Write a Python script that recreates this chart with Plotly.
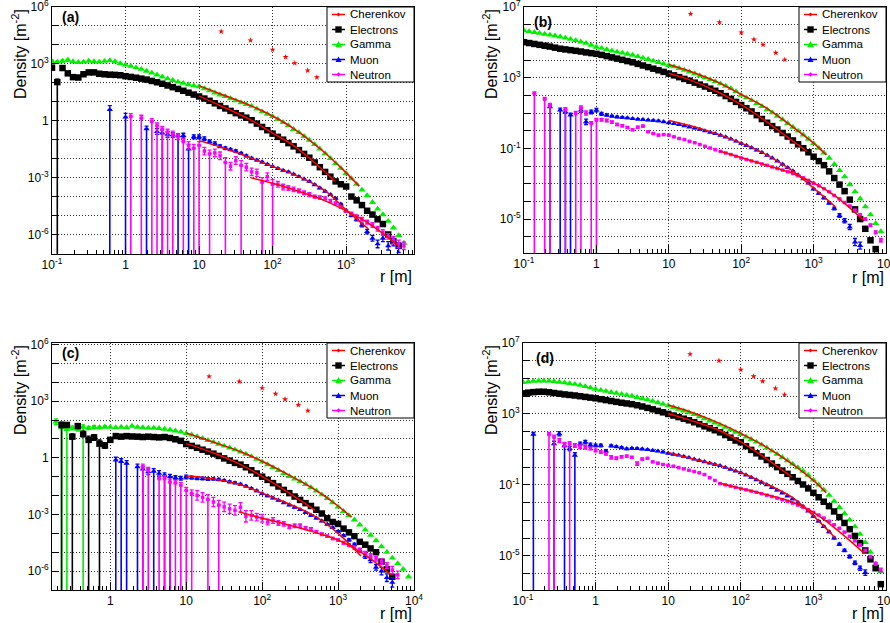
import plotly.graph_objects as go

N = None

# ---------------- shared radial bins [m] ----------------
R_GRID = [0.1, 0.118, 0.139, 0.164, 0.193, 0.228, 0.268, 0.316, 0.373, 0.439, 0.518, 0.611, 0.72, 0.848,
          1.0, 1.18, 1.39, 1.64, 1.93, 2.28, 2.68, 3.16, 3.73, 4.39, 5.18, 6.11, 7.2, 8.48,
          10, 11.8, 13.9, 16.4, 19.3, 22.8, 26.8, 31.6, 37.3, 43.9, 51.8, 61.1, 72, 84.8,
          100, 118, 139, 164, 193, 228, 268, 316, 373, 439, 518, 611, 720, 848,
          1000, 1180, 1390, 1640, 1930, 2280, 2680, 3160, 3730, 4390, 5180, 6110, 7200, 8480]
CHER_R = [20, 50, 100, 150, 200, 300, 400]
FIT_R_GAMMA = [10, 20, 50, 100, 200, 500, 1000, 1500]
FIT_R_MUON = [10, 20, 50, 100, 200, 500, 1000, 2000]
FIT_R_NEUT = [50, 100, 200, 500, 1000, 2000, 5000]

# Values are log10(density / m^-2).  Error entries are log10 half-widths;
# a negative error means the lower bar reaches the bottom of the frame.

# ---------------- panel (a) ----------------
A_GAMMA = [3.13, 3.10, 3.15, 3.20, 3.12, 3.08, 3.10, 3.15, 3.12, 3.10, 3.14, 3.18, 3.12, 3.02,
           2.95, 2.88, 2.80, 2.72, 2.62, 2.52, 2.42, 2.32, 2.22, 2.13, 2.05, 1.98, 1.90, 1.85,
           1.80, 1.70, 1.59, 1.47, 1.37, 1.28, 1.17, 1.06, 0.96, 0.86, 0.77, 0.62, 0.48, 0.35,
           0.23, 0.08, -0.08, -0.25, -0.45, -0.62, -0.82, -1.02, -1.25, -1.48, -1.73, -1.98, -2.25, -2.50,
           -2.77, -3.05, -3.35, -3.65, -3.95, -4.30, -4.65, -4.95, -5.30, -5.65, -6.05, -6.45, N, N]
A_GAMMA_ERR = {0: 0.06, 1: 0.05, 2: 0.05, 3: 0.05}
A_ELEC = [2.80, 2.04, 2.78, 2.50, 2.30, 2.28, 2.45, 2.55, 2.55, 2.48, 2.45, 2.43, 2.42, 2.40,
          2.35, 2.31, 2.27, 2.22, 2.17, 2.10, 2.03, 1.95, 1.86, 1.77, 1.68, 1.58, 1.48, 1.38,
          1.28, 1.17, 1.05, 0.92, 0.78, 0.65, 0.52, 0.40, 0.28, 0.16, 0.03, -0.15, -0.33, -0.50,
          -0.68, -0.85, -1.00, -1.18, -1.35, -1.55, -1.75, -1.95, -2.20, -2.45, -2.70, -2.95, -3.20, -3.35,
          -3.47, -4.00, -4.20, -4.45, -4.75, -4.95, -5.20, -5.45, -6.00, -6.35, -6.60, N, N, N]
A_ELEC_ERR = {0: 0.10, 1: -0.15, 2: 0.06, 3: 0.06, 4: 0.06, 5: 0.05}
A_MUON = [N, N, N, N, N, N, N, N, N, N, N, 0.58, N, N,
          0.19, N, N, N, -0.43, N, -0.57, -0.65, -0.72, -0.75, -0.80, -0.78, -1.50, -0.85,
          -0.85, -0.95, -1.10, -1.20, -1.35, -1.45, -1.52, -1.60, -1.72, -1.85, -1.98, -2.08, -2.18, -2.30,
          -2.42, -2.52, -2.62, -2.70, -2.82, -2.95, -3.08, -3.20, -3.38, -3.55, -3.72, -3.90, -4.10, -4.40,
          -4.75, -5.00, -5.20, -5.50, -5.85, -6.20, -6.50, -6.20, -6.60, -6.40, -6.70, N, N, N]
A_MUON_ERR = [N, N, N, N, N, N, N, N, N, N, N, -0.22, N, N,
              -0.20, N, N, N, -0.15, N, 0.15, -0.15, 0.15, 0.12, -0.12, 0.12, -0.25, 0.10,
              0.10, 0.10, 0.08, 0.08, 0.07, 0.07, 0.06, 0.06, 0.05, 0.05, 0.05, 0.04, 0.04, 0.04,
              0.03, 0.03, 0.03, 0.03, 0.03, 0.03, 0.03, 0.03, 0.03, 0.03, 0.03, 0.04, 0.04, 0.04,
              0.05, 0.06, 0.08, 0.10, 0.12, 0.15, 0.20, 0.18, 0.22, 0.20, 0.25, N, N, N]
A_NEUT = [N, N, N, N, N, N, N, N, N, N, N, N, N, N,
          N, 0.23, N, 0.14, N, -0.04, -0.27, -0.45, -0.60, -0.70, -0.85, -1.10, -1.30, -1.45,
          -1.30, -1.60, -1.75, -1.70, -1.85, -2.20, -2.40, -2.10, -2.35, -2.45, -2.70, -2.75, -3.25, -2.95,
          -3.35, -3.35, -3.50, -3.55, -3.62, -3.70, -3.80, -3.90, -4.00, -4.05, -4.10, -4.22, -4.35, -4.55,
          -4.75, -4.90, -5.05, -5.20, -5.35, -5.50, -5.70, -5.90, -6.10, -6.30, -6.50, -6.60, N, N]
A_NEUT_ERR = [N, N, N, N, N, N, N, N, N, N, N, N, N, N,
              N, -0.15, N, -0.15, N, -0.15, -0.15, -0.15, -0.15, -0.15, 0.15, -0.15, 0.20, -0.20,
              -0.20, 0.20, -0.20, 0.20, 0.20, -0.25, 0.20, 0.20, -0.25, 0.20, 0.20, 0.20, -0.25, 0.20,
              -0.25, 0.15, 0.15, 0.12, 0.12, 0.10, 0.10, 0.10, 0.08, 0.08, 0.08, 0.07, 0.07, 0.07,
              0.07, 0.08, 0.08, 0.10, 0.10, 0.12, 0.12, 0.15, 0.15, 0.20, 0.20, 0.20, N, N]
A_CHER = [4.71, 4.24, 3.75, 3.36, 3.04, 2.65, 2.29]
A_FIT_GAMMA = [1.85, 1.40, 0.80, 0.25, -0.45, -1.65, -2.75, -3.45]
A_FIT_ELEC_R = [10, 20, 50, 100, 200, 500, 700]
A_FIT_ELEC = [1.30, 0.78, 0.05, -0.65, -1.35, -2.65, -3.20]
A_FIT_MUON = [-1.05, -1.40, -1.95, -2.40, -2.85, -3.65, -4.70, -5.70]
A_FIT_NEUT = [-3.00, -3.30, -3.65, -4.20, -4.75, -5.40, -6.55]

# ---------------- panel (b) ----------------
B_GAMMA = [5.67, 5.62, 5.57, 5.52, 5.47, 5.42, 5.37, 5.31, 5.25, 5.18, 5.11, 5.03, 4.95, 4.85,
           4.73, 4.67, 4.60, 4.52, 4.46, 4.40, 4.34, 4.28, 4.20, 4.12, 4.04, 3.95, 3.87, 3.78,
           3.70, 3.62, 3.53, 3.43, 3.33, 3.23, 3.12, 3.00, 2.90, 2.79, 2.66, 2.53, 2.39, 2.22,
           2.02, 1.87, 1.71, 1.55, 1.38, 1.20, 1.02, 0.83, 0.63, 0.42, 0.21, -0.01, -0.23, -0.47,
           -0.72, -0.98, -1.25, -1.55, -1.90, -2.25, -2.60, -3.05, -3.45, -3.85, -4.30, -4.75, -5.25, -5.70]
B_GAMMA_ERR = {}
B_ELEC = [5.01, 4.96, 4.91, 4.86, 4.81, 4.76, 4.70, 4.64, 4.60, 4.56, 4.52, 4.48, 4.43, 4.39,
          4.35, 4.29, 4.22, 4.15, 4.08, 4.01, 3.94, 3.87, 3.78, 3.69, 3.60, 3.51, 3.42, 3.33,
          3.23, 3.13, 3.03, 2.93, 2.83, 2.72, 2.61, 2.50, 2.38, 2.26, 2.12, 1.96, 1.80, 1.63,
          1.45, 1.27, 1.09, 0.88, 0.66, 0.45, 0.26, 0.07, -0.13, -0.33, -0.55, -0.77, -0.99, -1.22,
          -1.47, -1.72, -1.95, -2.30, -2.68, -3.05, -3.42, -3.90, -4.45, -5.00, -5.55, -6.20, -6.70, N]
B_ELEC_ERR = {}
B_MUON = [N, N, N, N, N, 1.35, N, 1.16, 1.05, 0.88, N, 1.16, 0.50, 1.06,
          1.16, 0.95, 0.88, 0.82, 0.78, 0.75, 0.72, 0.68, 0.65, 0.63, 0.60, 0.58, 0.55, 0.50,
          0.45, 0.40, 0.35, 0.28, 0.21, 0.14, 0.07, -0.01, -0.09, -0.17, -0.26, -0.36, -0.47, -0.59,
          -0.72, -0.84, -0.97, -1.10, -1.24, -1.39, -1.55, -1.72, -1.90, -2.09, -2.28, -2.50, -2.72, -2.97,
          -3.30, -3.55, -3.80, -4.10, -4.40, -4.80, -5.10, -5.45, -6.30, -6.50, N, N, N, N]
B_MUON_ERR = [N, N, N, N, N, -0.12, N, -0.12, -0.12, -0.12, N, 0.12, 0.15, 0.10,
              0.10, 0.08, 0.06, 0.05, 0.05, 0.04, 0.04, 0.03, 0.03, 0.03, 0.03, 0.03, 0.03, 0.03,
              0.02, 0.02, 0.02, 0.02, 0.02, 0.02, 0.02, 0.02, 0.02, 0.02, 0.02, 0.02, 0.02, 0.02,
              0.02, 0.02, 0.02, 0.02, 0.02, 0.02, 0.02, 0.02, 0.02, 0.02, 0.02, 0.02, 0.02, 0.02,
              0.03, 0.04, 0.05, 0.06, 0.08, 0.10, 0.12, 0.15, 0.20, 0.20, N, N, N, N]
B_NEUT = [N, N, 2.10, N, 1.78, 1.44, N, N, 1.21, N, 0.97, 1.29, 1.00, 0.41,
          0.60, 0.62, 0.58, 0.48, 0.35, 0.28, 0.18, 0.05, 0.20, 0.26, -0.06, -0.16, -0.25, -0.22,
          -0.25, -0.35, -0.44, -0.50, -0.60, -0.68, -0.78, -0.88, -0.98, -1.08, -1.17, -1.26, -1.35, -1.45,
          -1.55, -1.63, -1.71, -1.79, -1.88, -1.96, -2.05, -2.14, -2.23, -2.32, -2.42, -2.54, -2.67, -2.81,
          -2.97, -3.12, -3.28, -3.46, -3.66, -3.86, -4.06, -4.26, -4.50, -4.75, -5.00, -5.35, -5.75, -6.20]
B_NEUT_ERR = [N, N, -0.10, N, -0.10, -0.10, N, N, -0.10, N, -0.12, -0.12, 0.12, -0.10,
              -0.10, 0.08, 0.08, 0.07, 0.06, 0.06, 0.05, 0.05, 0.05, 0.05, 0.04, 0.04, 0.04, 0.03,
              0.03, 0.03, 0.03, 0.02, 0.02, 0.02, 0.02, 0.02, 0.02, 0.02, 0.02, 0.02, 0.02, 0.02,
              0.02, 0.02, 0.02, 0.02, 0.02, 0.02, 0.02, 0.02, 0.02, 0.02, 0.02, 0.02, 0.02, 0.02,
              0.02, 0.02, 0.02, 0.03, 0.03, 0.03, 0.04, 0.04, 0.05, 0.05, 0.06, 0.07, 0.08, 0.10]
B_CHER = [6.61, 6.14, 5.56, 5.16, 4.86, 4.41, 4.02]
B_FIT_GAMMA = [3.75, 3.35, 2.70, 2.05, 1.40, 0.25, -0.70, -1.38]
B_FIT_ELEC_R = [10, 20, 50, 100, 200, 500, 800]
B_FIT_ELEC = [3.25, 2.86, 2.15, 1.47, 0.65, -0.55, -1.15]
B_FIT_MUON = [0.58, 0.28, -0.22, -0.70, -1.25, -2.25, -3.25, -4.30]
B_FIT_NEUT = [-1.15, -1.52, -1.90, -2.40, -2.95, -3.70, -5.10]

# ---------------- panel (c) ----------------
C_GAMMA = [N, N, N, N, 1.91, 1.60, 1.50, 1.58, 1.52, 1.62, 1.58, 1.62, 1.60, 1.64,
           1.62, 1.60, 1.63, 1.60, 1.68, 1.62, 1.60, 1.58, 1.58, 1.56, 1.52, 1.48, 1.43, 1.37,
           1.30, 1.22, 1.13, 1.03, 0.93, 0.83, 0.73, 0.63, 0.53, 0.43, 0.32, 0.20, 0.07, -0.07,
           -0.21, -0.36, -0.51, -0.66, -0.82, -0.98, -1.12, -1.25, -1.40, -1.57, -1.75, -1.95, -2.15, -2.37,
           -2.60, -2.83, -3.05, -3.28, -3.55, -3.82, -4.10, -4.38, -4.70, -5.00, -5.30, -5.60, -5.90, -6.30]
C_GAMMA_ERR = {4: 0.15, 5: -0.15, 6: -0.15, 7: 0.10, 8: 0.10, 9: -0.12, 10: 0.08, 11: 0.08, 12: 0.06, 13: 0.05}
C_ELEC = [N, N, N, N, N, 1.74, 1.74, 1.12, 1.68, 1.26, 0.95, 1.08, 0.75, 0.65,
          0.95, 1.15, 1.12, 1.15, 1.13, 1.12, 1.10, 1.12, 1.10, 1.08, 1.10, 1.05, 0.98, 0.90,
          0.73, 0.63, 0.53, 0.43, 0.33, 0.22, 0.10, -0.03, -0.15, -0.27, -0.36, -0.50, -0.66, -0.83,
          -1.00, -1.17, -1.34, -1.52, -1.70, -1.87, -2.05, -2.23, -2.40, -2.55, -2.75, -2.95, -3.20, -3.40,
          -3.50, -3.75, -3.95, -4.15, -4.45, -4.60, -4.80, -5.00, -5.50, -5.90, -6.30, N, N, N]
C_ELEC_ERR = {5: -0.15, 6: 0.12, 7: -0.15, 8: 0.12, 9: 0.15, 10: -0.20, 11: 0.15, 12: -0.20, 13: 0.15,
              14: 0.10, 15: 0.08, 16: 0.06}
C_MUON = [N, N, N, N, N, N, N, N, N, N, N, N, N, N,
          N, -0.12, -0.20, -0.30, N, -0.48, -0.60, -0.74, -0.72, -0.83, -0.92, -1.00, -1.05, -1.08,
          -1.02, -1.05, -1.08, -1.10, -1.12, -1.12, -1.15, -1.20, -1.27, -1.33, -1.40, -1.50, -1.62, -1.75,
          -1.90, -2.02, -2.13, -2.25, -2.38, -2.50, -2.62, -2.75, -2.90, -3.05, -3.20, -3.35, -3.52, -3.70,
          -3.90, -4.12, -4.35, -4.60, -4.90, -5.20, -5.40, -5.80, -6.00, -6.35, -6.60, N, N, N]
C_MUON_ERR = [N, N, N, N, N, N, N, N, N, N, N, N, N, N,
              N, -0.15, -0.15, -0.15, N, -0.15, -0.15, 0.15, -0.15, 0.15, -0.12, -0.12, 0.10, 0.10,
              0.10, 0.08, 0.08, 0.07, 0.07, 0.06, 0.06, 0.05, 0.05, 0.05, 0.04, 0.04, 0.04, 0.04,
              0.03, 0.03, 0.03, 0.03, 0.03, 0.03, 0.03, 0.03, 0.03, 0.03, 0.03, 0.03, 0.03, 0.03,
              0.04, 0.05, 0.06, 0.08, 0.10, 0.12, 0.15, 0.15, 0.20, 0.20, 0.25, N, N, N]
C_NEUT = [N, N, N, N, N, N, N, N, N, N, N, N, N, N,
          N, N, N, N, N, N, -0.48, -0.66, N, -1.10, -1.10, -1.28, -1.33, -1.45,
          -1.72, -1.90, -1.99, -2.10, -2.20, -2.34, -2.50, -2.60, -2.70, -2.78, -2.62, -3.10, -3.05, -3.14,
          -3.20, -3.40, -3.32, -3.45, -3.50, -3.65, -3.60, -3.60, -3.72, -3.78, -3.92, -4.05, -4.15, -4.27,
          -4.35, -4.50, -4.62, -4.75, -4.90, -5.05, -5.20, -5.35, -5.50, -5.70, -5.95, -6.20, N, N]
C_NEUT_ERR = [N, N, N, N, N, N, N, N, N, N, N, N, N, N,
              N, N, N, N, N, N, -0.15, -0.15, N, -0.15, -0.15, -0.15, -0.15, -0.15,
              -0.15, -0.20, 0.25, 0.25, -0.25, 0.25, -0.25, 0.25, 0.25, 0.25, 0.25, 0.30, 0.25, 0.20,
              0.20, 0.15, 0.15, 0.12, 0.12, 0.10, 0.10, 0.10, 0.08, 0.08, 0.07, 0.07, 0.06, 0.06,
              0.06, 0.07, 0.08, 0.08, 0.10, 0.10, 0.12, 0.12, 0.15, 0.15, 0.20, 0.20, N, N]
C_CHER = [4.31, 4.04, 3.69, 3.39, 3.10, 2.80, 2.50]
C_FIT_GAMMA = [1.32, 0.90, 0.35, -0.18, -0.80, -1.70, -2.55, -3.15]
C_FIT_ELEC_R = [10, 20, 50, 100, 200, 500]
C_FIT_ELEC = [0.75, 0.35, -0.32, -0.98, -1.72, -2.78]
C_FIT_MUON = [-0.96, -1.08, -1.40, -1.88, -2.35, -3.10, -4.00, -5.20]
C_FIT_NEUT = [-2.87, -3.20, -3.50, -3.95, -4.35, -5.00, -6.20]

# ---------------- panel (d) ----------------
D_GAMMA = [4.78, 4.82, 4.85, 4.87, 4.87, 4.86, 4.83, 4.80, 4.76, 4.72, 4.68, 4.62, 4.55, 4.48,
           4.40, 4.34, 4.28, 4.22, 4.17, 4.11, 4.06, 4.01, 3.94, 3.87, 3.80, 3.72, 3.64, 3.56,
           3.47, 3.37, 3.27, 3.17, 3.08, 2.97, 2.85, 2.73, 2.61, 2.49, 2.38, 2.25, 2.11, 1.97,
           1.85, 1.71, 1.57, 1.42, 1.26, 1.09, 0.91, 0.73, 0.55, 0.37, 0.18, -0.02, -0.22, -0.45,
           -0.72, -1.00, -1.28, -1.58, -1.92, -2.27, -2.62, -2.98, -3.36, -3.78, -4.25, -4.80, -5.45, -5.90]
D_GAMMA_ERR = {}
D_ELEC = [4.16, 4.20, 4.23, 4.25, 4.25, 4.22, 4.18, 4.14, 4.10, 4.07, 4.04, 4.00, 3.96, 3.92,
          3.88, 3.83, 3.78, 3.73, 3.68, 3.63, 3.59, 3.55, 3.49, 3.42, 3.34, 3.26, 3.17, 3.09,
          3.00, 2.91, 2.82, 2.73, 2.64, 2.53, 2.42, 2.30, 2.19, 2.08, 1.96, 1.81, 1.66, 1.50,
          1.40, 1.18, 0.97, 0.78, 0.60, 0.40, 0.20, 0.00, -0.20, -0.38, -0.57, -0.78, -0.98, -1.20,
          -1.45, -1.70, -1.95, -2.20, -2.50, -2.82, -3.15, -3.50, -3.88, -4.28, -4.70, -5.20, -5.70, -6.60]
D_ELEC_ERR = {}
D_MUON = [N, N, 1.84, N, N, N, 1.31, 1.88, 1.20, 1.05, 0.66, 1.31, 1.41, 1.25,
          1.22, 1.22, 0.90, 1.20, 1.15, 1.10, 1.03, 1.06, 1.05, 1.02, 0.98, 0.94, 0.90, 0.85,
          0.78, 0.72, 0.67, 0.60, 0.53, 0.45, 0.37, 0.30, 0.22, 0.15, 0.08, -0.02, -0.12, -0.22,
          -0.32, -0.45, -0.58, -0.72, -0.86, -1.00, -1.15, -1.30, -1.46, -1.63, -1.80, -2.00, -2.22, -2.48,
          -2.78, -3.05, -3.35, -3.65, -4.00, -4.35, -4.70, -5.05, -5.40, -5.70, -5.95, N, N, N]
D_MUON_ERR = [N, N, -0.12, N, N, N, -0.15, 0.12, -0.15, 0.12, -0.15, 0.10, 0.10, 0.10,
              0.08, 0.08, 0.08, 0.06, 0.05, 0.05, 0.04, 0.04, 0.03, 0.03, 0.03, 0.03, 0.03, 0.03,
              0.02, 0.02, 0.02, 0.02, 0.02, 0.02, 0.02, 0.02, 0.02, 0.02, 0.02, 0.02, 0.02, 0.02,
              0.02, 0.02, 0.02, 0.02, 0.02, 0.02, 0.02, 0.02, 0.02, 0.02, 0.02, 0.02, 0.02, 0.02,
              0.02, 0.03, 0.03, 0.04, 0.05, 0.06, 0.07, 0.08, 0.10, 0.12, 0.15, N, N, N]
D_NEUT = [N, N, N, N, N, 1.84, 1.69, 1.50, 1.27, 1.31, 1.22, 1.15, 1.12, 1.05,
          0.94, 0.85, 0.75, 0.55, 0.50, 0.58, 0.62, 0.55, 0.20, 0.45, 0.50, 0.30, 0.22, 0.15,
          0.10, 0.05, -0.03, -0.10, -0.18, -0.25, -0.32, -0.42, -0.60, -0.75, -0.93, -1.00, -1.07, -1.14,
          -1.21, -1.28, -1.35, -1.42, -1.50, -1.58, -1.66, -1.75, -1.84, -1.93, -2.03, -2.14, -2.26, -2.40,
          -2.55, -2.70, -2.87, -3.05, -3.25, -3.45, -3.67, -3.90, -4.15, -4.40, -4.70, -5.05, -5.45, -5.80]
D_NEUT_ERR = [N, N, N, N, N, -0.12, -0.12, 0.12, 0.12, -0.12, 0.10, 0.10, 0.10, 0.08,
              0.08, 0.07, 0.07, 0.10, 0.08, 0.06, 0.06, 0.06, 0.10, 0.05, 0.04, 0.04, 0.04, 0.03,
              0.03, 0.03, 0.03, 0.02, 0.02, 0.02, 0.02, 0.02, 0.02, 0.02, 0.02, 0.02, 0.02, 0.02,
              0.02, 0.02, 0.02, 0.02, 0.02, 0.02, 0.02, 0.02, 0.02, 0.02, 0.02, 0.02, 0.02, 0.02,
              0.02, 0.02, 0.02, 0.03, 0.03, 0.03, 0.04, 0.04, 0.05, 0.05, 0.06, 0.07, 0.08, 0.10]
D_CHER = [6.37, 6.00, 5.49, 5.12, 4.84, 4.44, 4.09]
D_FIT_GAMMA = [3.50, 3.12, 2.48, 1.90, 1.25, 0.20, -0.75, -1.45]
D_FIT_ELEC_R = [10, 20, 50, 100, 200, 500]
D_FIT_ELEC = [3.02, 2.65, 2.08, 1.42, 0.62, -0.55]
D_FIT_MUON = [0.82, 0.50, 0.10, -0.30, -0.85, -1.68, -2.75, -4.00]
D_FIT_NEUT = [-0.90, -1.20, -1.50, -1.95, -2.55, -3.45, -4.85]

LEGEND_LABELS = ["Cherenkov", "Electrons", "Gamma", "Muon", "Neutron"]
PANEL_TAGS = ["(a)", "(b)", "(c)", "(d)"]

# ---------------- styling / layout ----------------
FONT = "Liberation Sans, Arial, Helvetica, sans-serif"
RED, BLACK, GREEN, BLUE, MAGENTA = "#ff0000", "#000000", "#00ee00", "#0000ff", "#ff00ff"
W, H = 890, 623

PANELS = [
    dict(tag=PANEL_TAGS[0], box=(52, 414, 7, 254), xr=(-1.0, 3.923), yr=(-7.03, 6.0),
         xlab=[-1, 0, 1, 2, 3], ylab=[-6, -3, 0, 3, 6],
         gamma=(A_GAMMA, A_GAMMA_ERR), elec=(A_ELEC, A_ELEC_ERR), muon=(A_MUON, A_MUON_ERR),
         neut=(A_NEUT, A_NEUT_ERR), cher=A_CHER, fg=A_FIT_GAMMA, fe=(A_FIT_ELEC_R, A_FIT_ELEC),
         fm=A_FIT_MUON, fn=A_FIT_NEUT, ytitle_x=19, rlab_y=276, tagpos=(60, 17.5)),
    dict(tag=PANEL_TAGS[1], box=(524, 886, 7, 253), xr=(-1.0, 4.0), yr=(-6.92, 7.0),
         xlab=[-1, 0, 1, 2, 3, 4], ylab=[-5, -1, 3, 7],
         gamma=(B_GAMMA, B_GAMMA_ERR), elec=(B_ELEC, B_ELEC_ERR), muon=(B_MUON, B_MUON_ERR),
         neut=(B_NEUT, B_NEUT_ERR), cher=B_CHER, fg=B_FIT_GAMMA, fe=(B_FIT_ELEC_R, B_FIT_ELEC),
         fm=B_FIT_MUON, fn=B_FIT_NEUT, ytitle_x=490, rlab_y=277, tagpos=(532, 22)),
    dict(tag=PANEL_TAGS[2], box=(52, 414, 343, 590), xr=(-0.768, 4.0), yr=(-7.0, 6.08),
         xlab=[0, 1, 2, 3, 4], ylab=[-6, -3, 0, 3, 6],
         gamma=(C_GAMMA, C_GAMMA_ERR), elec=(C_ELEC, C_ELEC_ERR), muon=(C_MUON, C_MUON_ERR),
         neut=(C_NEUT, C_NEUT_ERR), cher=C_CHER, fg=C_FIT_GAMMA, fe=(C_FIT_ELEC_R, C_FIT_ELEC),
         fm=C_FIT_MUON, fn=C_FIT_NEUT, ytitle_x=19, rlab_y=613, tagpos=(60, 353)),
    dict(tag=PANEL_TAGS[3], box=(523, 886, 343, 590), xr=(-1.0, 4.0), yr=(-6.93, 7.0),
         xlab=[-1, 0, 1, 2, 3, 4], ylab=[-5, -1, 3, 7],
         gamma=(D_GAMMA, D_GAMMA_ERR), elec=(D_ELEC, D_ELEC_ERR), muon=(D_MUON, D_MUON_ERR),
         neut=(D_NEUT, D_NEUT_ERR), cher=D_CHER, fg=D_FIT_GAMMA, fe=(D_FIT_ELEC_R, D_FIT_ELEC),
         fm=D_FIT_MUON, fn=D_FIT_NEUT, ytitle_x=490, rlab_y=613, tagpos=(534, 358)),
]

for name, arr in [("A_GAMMA", A_GAMMA), ("A_ELEC", A_ELEC), ("A_MUON", A_MUON), ("A_MUON_ERR", A_MUON_ERR),
                  ("A_NEUT", A_NEUT), ("A_NEUT_ERR", A_NEUT_ERR), ("B_GAMMA", B_GAMMA), ("B_ELEC", B_ELEC),
                  ("B_MUON", B_MUON), ("B_MUON_ERR", B_MUON_ERR), ("B_NEUT", B_NEUT), ("B_NEUT_ERR", B_NEUT_ERR),
                  ("C_GAMMA", C_GAMMA), ("C_ELEC", C_ELEC), ("C_MUON", C_MUON), ("C_MUON_ERR", C_MUON_ERR),
                  ("C_NEUT", C_NEUT), ("C_NEUT_ERR", C_NEUT_ERR), ("D_GAMMA", D_GAMMA), ("D_ELEC", D_ELEC),
                  ("D_MUON", D_MUON), ("D_MUON_ERR", D_MUON_ERR), ("D_NEUT", D_NEUT), ("D_NEUT_ERR", D_NEUT_ERR)]:
    if len(arr) != len(R_GRID):
        raise ValueError(f"{name} has length {len(arr)}")


def PX(x):
    return x / W


def PY(y):
    return 1 - y / H


def dec_label(k):
    if k == 0:
        return "1"
    if k == 1:
        return "10"
    return f"10<sup>{k}</sup>"


fig = go.Figure()


def add_series(xa, ya, logs, errs, color, symbol, size):
    xs0, ys0 = [], []
    xs1, ys1, ep, em = [], [], [], []
    bx, by = [], []
    for i, v in enumerate(logs):
        if v is None:
            continue
        e = errs.get(i) if isinstance(errs, dict) else errs[i]
        y = 10 ** v
        r = R_GRID[i]
        if not e:
            xs0.append(r); ys0.append(y)
            continue
        xs1.append(r); ys1.append(y)
        if e > 0:
            ep.append(y * (10 ** e - 1)); em.append(y * (1 - 10 ** -e))
        else:
            ep.append(y * (10 ** -e - 1)); em.append(0)
            bx += [r, r, None]; by += [1e-12, y, None]
    if bx:
        fig.add_trace(go.Scatter(x=bx, y=by, mode="lines", line=dict(color=color, width=1.6),
                                 xaxis=xa, yaxis=ya, hoverinfo="skip", showlegend=False))
    mk = dict(color=color, symbol=symbol, size=size, line=dict(width=0))
    if xs1:
        fig.add_trace(go.Scatter(x=xs1, y=ys1, mode="markers", marker=mk, xaxis=xa, yaxis=ya,
                                 error_y=dict(type="data", array=ep, arrayminus=em, visible=True,
                                              color=color, thickness=1.3, width=2),
                                 showlegend=False))
    if xs0:
        fig.add_trace(go.Scatter(x=xs0, y=ys0, mode="markers", marker=mk, xaxis=xa, yaxis=ya,
                                 showlegend=False))


def add_fit(xa, ya, rs, logs):
    fig.add_trace(go.Scatter(x=rs, y=[10 ** v for v in logs], mode="lines",
                             line=dict(color=RED, width=1.5, shape="spline", smoothing=1.0),
                             xaxis=xa, yaxis=ya, hoverinfo="skip", showlegend=False))


def marker_shape(kind, cx, cy, s, color):
    """Legend glyph drawn as a paper-referenced shape (pixel centre cx, cy)."""
    if kind == "square":
        return dict(type="rect", xref="paper", yref="paper", x0=PX(cx - s), x1=PX(cx + s),
                    y0=PY(cy + s), y1=PY(cy - s), fillcolor=color, line=dict(width=0), layer="above")
    if kind == "tri":
        path = (f"M {PX(cx - s)},{PY(cy + s * 0.8)} L {PX(cx + s)},{PY(cy + s * 0.8)} "
                f"L {PX(cx)},{PY(cy - s)} Z")
        return dict(type="path", xref="paper", yref="paper", path=path, fillcolor=color,
                    line=dict(width=0), layer="above")
    path = (f"M {PX(cx - s)},{PY(cy)} L {PX(cx)},{PY(cy - s)} L {PX(cx + s)},{PY(cy)} "
            f"L {PX(cx)},{PY(cy + s)} Z")
    return dict(type="path", xref="paper", yref="paper", path=path, fillcolor=color,
                line=dict(width=0), layer="above")


layout = {}
annotations = []
shapes = []
tickfont = dict(family=FONT, size=12, color="black")
minor_x = [m * 10 ** k for k in range(-1, 4) for m in range(2, 10)]
GRID = dict(showgrid=True, gridcolor="#333333", griddash="1px,2px", gridwidth=1, zeroline=False)

for n, p in enumerate(PANELS, start=1):
    xa = "x" if n == 1 else f"x{n}"
    ya = "y" if n == 1 else f"y{n}"
    x0, x1, y0, y1 = p["box"]
    layout["xaxis" if n == 1 else f"xaxis{n}"] = dict(
        type="log", range=list(p["xr"]), domain=[x0 / W, x1 / W], anchor=ya,
        showline=True, mirror=True, linecolor="black", linewidth=1,
        ticks="inside", ticklen=8, tickwidth=1, tickcolor="black",
        tickvals=[10 ** k for k in p["xlab"]], ticktext=[dec_label(k) for k in p["xlab"]],
        tickfont=tickfont, ticklabeloverflow="allow",
        minor=dict(tickvals=minor_x, ticks="inside", ticklen=4, tickcolor="black", showgrid=False),
        **GRID,
    )
    yk = list(range(-7, 8))
    layout["yaxis" if n == 1 else f"yaxis{n}"] = dict(
        type="log", range=list(p["yr"]), domain=[1 - y1 / H, 1 - y0 / H], anchor=xa,
        showline=True, mirror=True, linecolor="black", linewidth=1,
        ticks="inside", ticklen=7, tickwidth=1, tickcolor="black",
        tickvals=[10 ** k for k in yk], ticktext=[dec_label(k) if k in p["ylab"] else "" for k in yk],
        tickfont=tickfont, ticklabeloverflow="allow",
        **GRID,
    )

    # data
    add_series(xa, ya, p["gamma"][0], p["gamma"][1], GREEN, "triangle-up", 6.5)
    add_series(xa, ya, p["elec"][0], p["elec"][1], BLACK, "square", 6.5)
    add_series(xa, ya, p["muon"][0], p["muon"][1], BLUE, "triangle-up", 5.5)
    add_series(xa, ya, p["neut"][0], p["neut"][1], MAGENTA, "square", 3.5)
    add_fit(xa, ya, FIT_R_GAMMA, p["fg"])
    add_fit(xa, ya, p["fe"][0], p["fe"][1])
    add_fit(xa, ya, FIT_R_MUON, p["fm"])
    add_fit(xa, ya, FIT_R_NEUT, p["fn"])
    fig.add_trace(go.Scatter(x=CHER_R, y=[10 ** v for v in p["cher"]], mode="markers",
                             marker=dict(color=RED, symbol="star", size=4.5, line=dict(width=0)),
                             xaxis=xa, yaxis=ya, showlegend=False))

    # texts
    annotations.append(dict(text="Density [m<sup>-2</sup>]", textangle=-90, xref="paper", yref="paper",
                            x=PX(p["ytitle_x"]), y=PY(y0), xanchor="center", yanchor="top", showarrow=False,
                            font=dict(family=FONT, size=16, color="black")))
    annotations.append(dict(text="r [m]", xref="paper", yref="paper", x=PX(x1), y=PY(p["rlab_y"]),
                            xanchor="right", yanchor="middle", showarrow=False,
                            font=dict(family=FONT, size=16, color="black")))
    annotations.append(dict(text=f"<b>{p['tag']}</b>", xref="paper", yref="paper", x=PX(p["tagpos"][0]),
                            y=PY(p["tagpos"][1]), xanchor="left", yanchor="middle", showarrow=False,
                            font=dict(family=FONT, size=14, color="black")))

    # legend box
    lx0, lx1 = x1 - 87, x1
    ly0, ly1 = y0, y0 + 75
    shapes.append(dict(type="rect", xref="paper", yref="paper", x0=PX(lx0), x1=PX(lx1),
                       y0=PY(ly1), y1=PY(ly0), fillcolor="white", line=dict(color="black", width=1),
                       layer="above"))
    styles = [(RED, "diamond", 2.0), (BLACK, "square", 3.2), (GREEN, "tri", 3.4),
              (BLUE, "tri", 3.0), (MAGENTA, "diamond", 2.2)]
    for j, (lab, (col, kind, sz)) in enumerate(zip(LEGEND_LABELS, styles)):
        yy = ly0 + 7.5 + 15 * j
        shapes.append(dict(type="line", xref="paper", yref="paper", x0=PX(lx0 + 5), x1=PX(lx0 + 18),
                           y0=PY(yy), y1=PY(yy), line=dict(color=col, width=1.5), layer="above"))
        shapes.append(marker_shape(kind, lx0 + 11.5, yy, sz, col))
        annotations.append(dict(text=lab, xref="paper", yref="paper", x=PX(lx0 + 21), y=PY(yy),
                                xanchor="left", yanchor="middle", showarrow=False,
                                font=dict(family=FONT, size=11.5, color="black")))

fig.update_layout(**layout)
fig.update_layout(width=W, height=H, margin=dict(l=0, r=0, t=0, b=0, pad=0, autoexpand=False),
                  paper_bgcolor="white", plot_bgcolor="white", showlegend=False,
                  annotations=annotations, shapes=shapes, font=dict(family=FONT, color="black"))

fig.write_html("out.html", config={"displayModeBar": False, "staticPlot": True},
               post_script="document.body.style.margin='0px';document.body.style.padding='0px';")
